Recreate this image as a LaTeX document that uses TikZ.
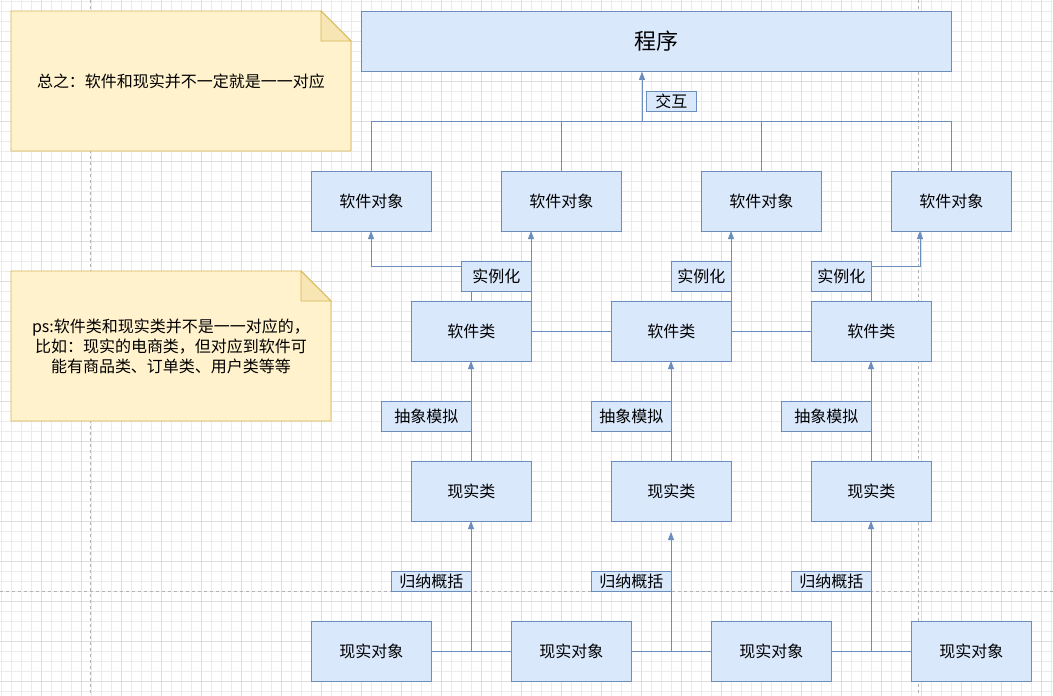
\documentclass[tikz,border=0pt]{standalone}
\usepackage{fontspec}
\setmainfont{Noto Sans CJK SC}
\usetikzlibrary{arrows.meta}
\definecolor{bf}{HTML}{DAE8FC}\definecolor{bs}{HTML}{6C8EBF}
\definecolor{nf}{HTML}{FFF2CC}\definecolor{ns}{HTML}{D6B656}
\begin{document}
\begin{tikzpicture}[x=1pt,y=-1pt,
 box/.style={draw=bs,fill=bf,line width=0.8pt,minimum width=120pt,minimum height=60pt,inner sep=0pt,font=\fontsize{16}{19}\selectfont,anchor=north west},
 lab/.style={draw=bs,fill=bf,line width=0.8pt,inner sep=2pt,font=\fontsize{16}{19}\selectfont,anchor=north west},
 con/.style={draw=bs,line width=0.8pt},
 arr/.style={con,-{Triangle[width=6pt,length=8pt]}}]
\useasboundingbox (0,0) rectangle (1053,696);
\fill[white] (0,0) rectangle (1053,696);
\foreach \x in {0,10,...,1050} \draw[black!8,line width=0.5pt] (\x+1,0) -- (\x+1,696);
\foreach \y in {0,10,...,690} \draw[black!8,line width=0.5pt] (0,\y+1) -- (1053,\y+1);
\foreach \x in {40,80,...,1040} \draw[black!13,line width=0.5pt] (\x+1,0) -- (\x+1,696);
\foreach \y in {40,80,...,680} \draw[black!13,line width=0.5pt] (0,\y+1) -- (1053,\y+1);
\draw[black!30,dashed,line width=0.6pt] (90,0) -- (90,696) (918,0) -- (918,696) (0,591) -- (1053,591);
% notes
\draw[ns,fill=nf,line width=0.8pt] (11,11) -- (321,11) -- (351,41) -- (351,151) -- (11,151) -- cycle;
\draw[ns,fill=nf!80!ns,line width=0.8pt] (321,11) -- (321,41) -- (351,41) -- cycle;
\node[font=\fontsize{16}{19}\selectfont] (n1) at (181,81) {总之：软件和现实并不一定就是一一对应};
\draw[ns,fill=nf,line width=0.8pt] (11,271) -- (301,271) -- (331,301) -- (331,421) -- (11,421) -- cycle;
\draw[ns,fill=nf!80!ns,line width=0.8pt] (301,271) -- (301,301) -- (331,301) -- cycle;
\node[font=\fontsize{16}{20}\selectfont,align=center] (n2) at (171,346) {ps:软件类和现实类并不是一一对应的，\\比如：现实的电商类，但对应到软件可\\能有商品类、订单类、用户类等等};
% boxes
\node[box,minimum width=590pt,font=\fontsize{22}{26}\selectfont] (prog) at (361,11) {程序};
\foreach \n/\x in {o1/311,o2/501,o3/701,o4/891} \node[box] (\n) at (\x,171) {软件对象};
\foreach \n/\x in {c1/411,c2/611,c3/811} \node[box] (\n) at (\x,301) {软件类};
\foreach \n/\x in {r1/411,r2/611,r3/811} \node[box] (\n) at (\x,461) {现实类};
\foreach \n/\x in {ro1/311,ro2/511,ro3/711,ro4/911} \node[box] (\n) at (\x,621) {现实对象};
% top connectors
\coordinate (j) at (642,121);
\draw[con] (371,171) -- (371,121) -- (951,121) -- (951,171);
\draw[con] (561,171) -- (561,121) (761,171) -- (761,121);
\draw[arr] (j) -- (prog.south -| j);
\node[lab,minimum width=50pt,minimum height=20pt,inner sep=0pt] (lj) at (646,91) {交互};
% instantiation
\node[lab,minimum width=70pt,minimum height=30pt,inner sep=0pt] (i1) at (461,261) {实例化};
\node[lab,minimum width=60pt,minimum height=30pt,inner sep=0pt] (i2) at (671,261) {实例化};
\node[lab,minimum width=60pt,minimum height=30pt,inner sep=0pt] (i3) at (811,261) {实例化};
\draw[con] (471,301) -- (471,291);
\draw[arr] (i1.west |- 0,266) -- (371,266) -- (371,231);
\draw[arr] (531,301) -- (531,231);
\draw[arr] (731,301) -- (731,231);
\draw[con] (871,301) -- (871,291);
\draw[arr] (i3.east |- 0,266) -- (920,266) -- (920,231);
\draw[con] (c1.east) -- (c2.west) (c2.east) -- (c3.west);
% abstraction
\foreach \a/\b/\x in {r1/c1/471,r2/c2/671,r3/c3/871} \draw[arr] (\x,461) -- (\x,361);
\node[lab,minimum width=90pt,minimum height=30pt,inner sep=0pt] (a1) at (381,401) {抽象模拟};
\node[lab,minimum width=80pt,minimum height=30pt,inner sep=0pt] (a2) at (591,401) {抽象模拟};
\node[lab,minimum width=90pt,minimum height=30pt,inner sep=0pt] (a3) at (781,401) {抽象模拟};
% induction
\draw[con] (ro1.east) -- (ro2.west) (ro2.east) -- (ro3.west) (ro3.east) -- (ro4.west);
\draw[arr] (471,651) -- (471,521);
\draw[arr] (671,651) -- (671,532);
\draw[arr] (871,651) -- (871,521);
\node[lab,minimum width=80pt,minimum height=20pt,inner sep=0pt] (g1) at (391,571) {归纳概括};
\node[lab,minimum width=80pt,minimum height=20pt,inner sep=0pt] (g2) at (591,571) {归纳概括};
\node[lab,minimum width=80pt,minimum height=20pt,inner sep=0pt] (g3) at (791,571) {归纳概括};
\end{tikzpicture}
\end{document}
